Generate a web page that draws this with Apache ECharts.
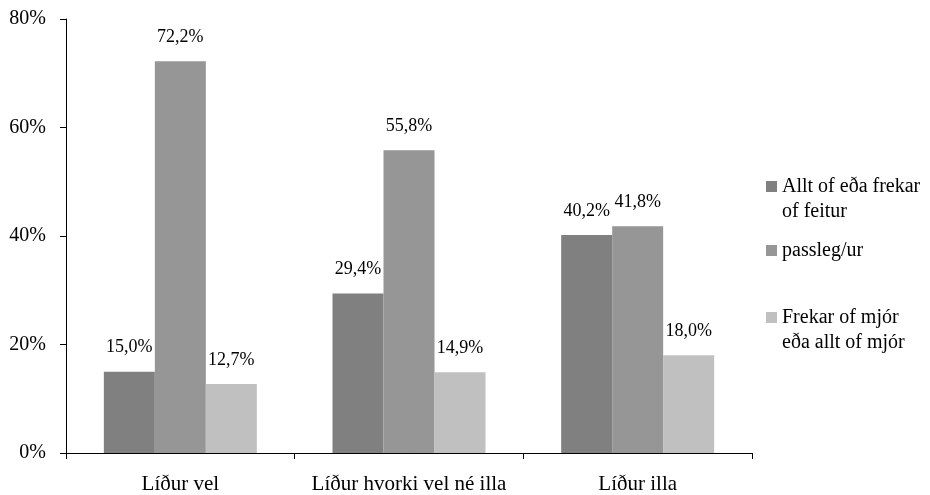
<!DOCTYPE html>
<html>
<head>
<meta charset="utf-8">
<script src="https://cdn.jsdelivr.net/npm/echarts@6/dist/echarts.min.js"></script>
<style>html,body{margin:0;padding:0;background:#fff}#c{width:930px;height:495px}</style>
</head>
<body>
<div id="c"></div>
<script>
const categories = ['Líður vel', 'Líður hvorki vel né illa', 'Líður illa'];
const seriesNames = ['Allt of eða frekar of feitur', 'passleg/ur', 'Frekar of mjór eða allt of mjór'];
const legendLabels = ['Allt of eða frekar\nof feitur', 'passleg/ur', 'Frekar of mjór\neða allt of mjór'];
const feitur = [15.0, 29.4, 40.2];
const passlegur = [72.2, 55.8, 41.8];
const mjor = [12.7, 14.9, 18.0];
const yTicks = [0, 20, 40, 60, 80];
const colors = ['#808080', '#969696', '#c0c0c0'];

const FONT = 'Liberation Serif';
const values = [feitur, passlegur, mjor];

const chart = echarts.init(document.getElementById('c'), null, {renderer: 'canvas'});

function legendFor(i, top) {
  const multi = legendLabels[i].indexOf('\n') >= 0;
  return {
    data: [seriesNames[i]],
    left: 766,
    top: top,
    orient: 'vertical',
    padding: 0,
    icon: 'rect',
    itemWidth: 11,
    itemHeight: 11,
    selectedMode: false,
    formatter: function () { return multi ? ' \n' + legendLabels[i] : legendLabels[i]; },
    textStyle: {
      fontFamily: FONT,
      fontSize: 20,
      color: '#000',
      lineHeight: 25
    }
  };
}

const series = values.map((arr, i) => ({
  name: seriesNames[i],
  type: 'bar',
  data: arr,
  barWidth: 51,
  barGap: '0%',
  itemStyle: {color: colors[i]},
  label: {
    show: true,
    position: 'top',
    distance: 15,
    fontFamily: FONT,
    fontSize: 18,
    color: '#000',
    formatter: p => p.value.toFixed(1).replace('.', ',') + '%'
  }
}));

chart.setOption({
  animation: false,
  grid: {left: 66, right: 178, top: 19, bottom: 40, containLabel: false},
  legend: [legendFor(0, 149), legendFor(1, 238), legendFor(2, 280)],
  xAxis: {
    type: 'category',
    data: categories,
    axisLine: {lineStyle: {color: '#000', width: 1}},
    axisTick: {show: true, length: 6, lineStyle: {color: '#000'}},
    axisLabel: {interval: 0, fontFamily: FONT, fontSize: 21, color: '#000', margin: 21}
  },
  yAxis: {
    type: 'value',
    min: yTicks[0],
    max: yTicks[yTicks.length - 1],
    interval: yTicks[1] - yTicks[0],
    splitLine: {show: false},
    axisLine: {show: true, lineStyle: {color: '#000', width: 1}},
    axisTick: {show: true, length: 6, lineStyle: {color: '#000'}},
    axisLabel: {fontFamily: FONT, fontSize: 20, color: '#000', margin: 20, formatter: '{value}%'}
  },
  series: series
});
</script>
</body>
</html>
